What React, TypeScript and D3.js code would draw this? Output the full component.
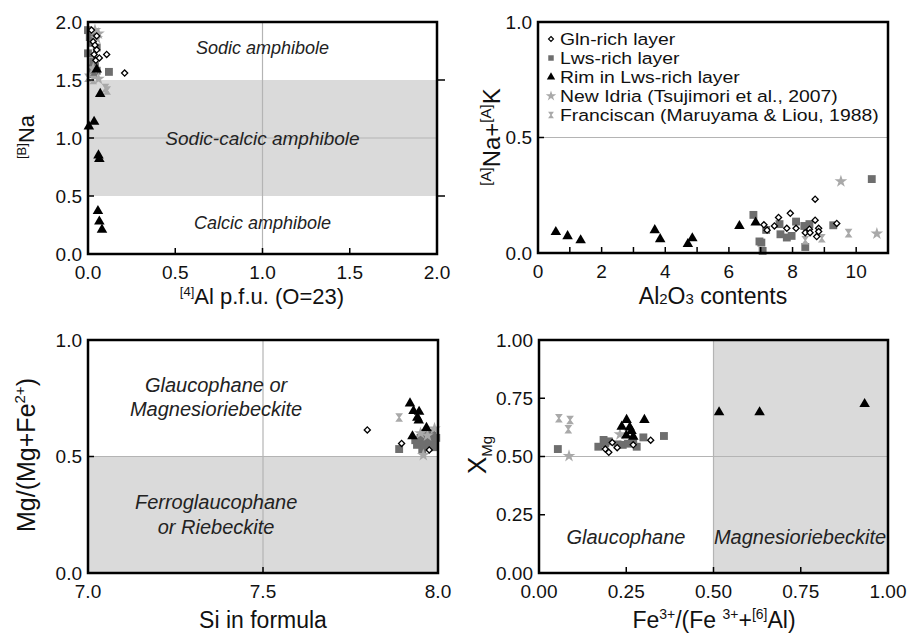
import React from 'react';
import * as d3 from 'd3';

// [x, y] pairs, one array per series per panel

// top-left: [4]Al vs [B]Na
const glnA = [[0.02, 1.93], [0.03, 1.83], [0.05, 1.88], [0.04, 1.80], [0.05, 1.76], [0.035, 1.72], [0.045, 1.67], [0.065, 1.69], [0.107, 1.72], [0.21, 1.56]];
const lwsA = [[0.0, 1.93], [0.01, 1.87], [0.03, 1.90], [0.02, 1.82], [0.05, 1.78], [0.0, 1.73], [0.03, 1.66], [0.02, 1.60], [0.04, 1.62], [0.05, 1.58], [0.03, 1.55], [0.12, 1.57]];
const rimA = [[0.05, 1.59], [0.07, 1.38], [0.035, 1.14], [0.005, 1.10], [0.06, 0.85], [0.065, 0.82], [0.057, 0.37], [0.065, 0.28], [0.08, 0.21]];
const idriaA = [[0.04, 1.93], [0.06, 1.90], [0.05, 1.86], [0.03, 1.60], [0.06, 1.51]];
const franA = [[0.0, 1.52], [0.03, 1.50], [0.1, 1.43], [0.11, 1.41]];

// top-right: Al2O3 vs [A]Na+[A]K
const glnB = [[8.71, 0.233], [7.1, 0.122], [7.2, 0.099], [7.43, 0.117], [7.56, 0.154], [7.82, 0.107], [7.93, 0.172], [8.11, 0.107], [8.4, 0.088], [8.53, 0.103], [8.55, 0.088], [8.71, 0.142], [8.82, 0.107], [8.82, 0.093], [8.76, 0.071], [9.39, 0.128]];
const lwsB = [[6.77, 0.165], [7.17, 0.1], [6.96, 0.05], [7.02, 0.045], [7.06, 0.009], [7.59, 0.125], [7.62, 0.081], [7.82, 0.067], [7.97, 0.074], [8.11, 0.136], [8.37, 0.117], [8.53, 0.125], [8.4, 0.026], [8.45, 0.1], [9.28, 0.12], [10.49, 0.32]];
const rimB = [[0.56, 0.091], [0.93, 0.073], [1.34, 0.055], [3.67, 0.099], [3.84, 0.06], [4.71, 0.039], [4.85, 0.064], [6.33, 0.117], [6.84, 0.132]];
const idriaB = [[9.52, 0.31], [10.65, 0.084]];
const franB = [[9.76, 0.086], [8.92, 0.064], [8.4, 0.055]];

// bottom-left: Si vs Mg/(Mg+Fe2+)
const glnC = [[7.798, 0.614], [7.896, 0.556], [7.975, 0.528]];
const lwsC = [[7.889, 0.532], [7.935, 0.57], [7.94, 0.55], [7.955, 0.53], [7.95, 0.58], [7.96, 0.55], [7.97, 0.57], [7.98, 0.6], [7.99, 0.56], [7.975, 0.54], [7.985, 0.59], [7.995, 0.58], [7.96, 0.6], [7.99, 0.54]];
const rimC = [[7.92, 0.728], [7.93, 0.695], [7.946, 0.692], [7.941, 0.667], [7.945, 0.655], [7.967, 0.623], [7.927, 0.587]];
const idriaC = [[7.958, 0.506], [7.95, 0.6], [7.99, 0.62], [7.97, 0.59]];
const franC = [[7.889, 0.667]];

// bottom-right: Fe3+/(Fe3+ + [6]Al) vs XMg
const glnD = [[0.19, 0.532], [0.2, 0.518], [0.224, 0.538], [0.32, 0.57], [0.21, 0.56], [0.27, 0.55]];
const lwsD = [[0.054, 0.532], [0.17, 0.542], [0.185, 0.571], [0.19, 0.556], [0.2, 0.565], [0.225, 0.552], [0.24, 0.55], [0.255, 0.555], [0.28, 0.542], [0.299, 0.582], [0.358, 0.588], [0.27, 0.56]];
const rimD = [[0.516, 0.69], [0.632, 0.69], [0.933, 0.725], [0.302, 0.657], [0.251, 0.657], [0.237, 0.628], [0.26, 0.625], [0.27, 0.585], [0.25, 0.59], [0.265, 0.61]];
const idriaD = [[0.086, 0.502], [0.232, 0.595]];
const franD = [[0.057, 0.664], [0.089, 0.657], [0.084, 0.617]];

const legendLabels = ['Gln-rich layer', 'Lws-rich layer', 'Rim in Lws-rich layer', 'New Idria (Tsujimori et al., 2007)', 'Franciscan (Maruyama & Liou, 1988)'];

const FONT = "'Liberation Sans', Arial, Helvetica, sans-serif";

// hourglass marker for the Franciscan data
const hourglass = {
  draw(ctx, size) {
    const w = Math.sqrt(size) * 0.5;
    const h = w * 1.1;
    ctx.moveTo(-w, -h);
    ctx.lineTo(w, -h);
    ctx.lineTo(w * 0.2, 0);
    ctx.lineTo(w, h);
    ctx.lineTo(-w, h);
    ctx.lineTo(-w * 0.2, 0);
    ctx.closePath();
  },
};

const styles = {
  lws: { type: d3.symbolSquare, size: 62, fill: '#6e6e6e', stroke: 'none' },
  idria: { type: d3.symbolStar, size: 50, fill: '#a9a9a9', stroke: 'none' },
  fran: { type: hourglass, size: 60, fill: '#a9a9a9', stroke: 'none' },
  rim: { type: d3.symbolTriangle, size: 48, fill: '#000', stroke: 'none' },
  gln: { type: d3.symbolDiamond2, size: 24, fill: '#fff', stroke: '#000' },
};
const legendOrder = ['gln', 'lws', 'rim', 'idria', 'fran'];
const legendSize = { gln: 16, lws: 30, rim: 30, idria: 34, fran: 34 };

const Panel = ({ box, xDomain, yDomain, xLabels, xTicks, yLabels, yTicks, fmt, shade, gridX, gridY, notes, sets, extra }) => {
  const x = d3.scaleLinear().domain(xDomain).range([box.l, box.r]);
  const y = d3.scaleLinear().domain(yDomain).range([box.b, box.t]);
  const f = d3.format(fmt.x);
  const fy = d3.format(fmt.y);
  const tl = 6;
  return (
    <g>
      {shade && (
        <rect x={x(shade.x[0])} y={y(shade.y[1])} width={x(shade.x[1]) - x(shade.x[0])}
          height={y(shade.y[0]) - y(shade.y[1])} fill="#dadada" />
      )}
      {gridX.map((v) => (
        <line key={'gx' + v} x1={x(v)} x2={x(v)} y1={box.t} y2={box.b} stroke="#b4b4b4" strokeWidth={1.2} />
      ))}
      {gridY.map((v) => (
        <line key={'gy' + v} x1={box.l} x2={box.r} y1={y(v)} y2={y(v)} stroke="#b4b4b4" strokeWidth={1.2} />
      ))}
      {notes.map((n, i) => (
        <text key={'n' + i} x={x(n.x)} y={y(n.y)} dy="0.35em" textAnchor="middle" fontStyle="italic"
          fontSize={n.size || 19} fill="#222">{n.text}</text>
      ))}
      {['lws', 'idria', 'fran', 'rim', 'gln'].map((k) => {
        const s = styles[k];
        const p = d3.symbol(s.type, s.size)();
        return (sets[k] || []).map((d, i) => (
          <path key={k + i} d={p} transform={`translate(${x(d[0])},${y(d[1])})`} fill={s.fill}
            stroke={s.stroke} strokeWidth={1.3} />
        ));
      })}
      <rect x={box.l} y={box.t} width={box.r - box.l} height={box.b - box.t} fill="none" stroke="#000" strokeWidth={2.5} />
      {xTicks.map((v) => (
        <line key={'xt' + v} x1={x(v)} x2={x(v)} y1={box.b} y2={box.b - tl} stroke="#000" strokeWidth={1.5} />
      ))}
      {yTicks.map((v) => (
        <line key={'yt' + v} x1={box.l} x2={box.l + tl} y1={y(v)} y2={y(v)} stroke="#000" strokeWidth={1.5} />
      ))}
      {xLabels.map((v) => (
        <text key={'xl' + v} x={x(v)} y={box.b + 25} textAnchor="middle" fontSize={19}>{f(v)}</text>
      ))}
      {yLabels.map((v) => (
        <text key={'yl' + v} x={box.l - 6} y={y(v)} dy="0.35em" textAnchor="end" fontSize={19}>{fy(v)}</text>
      ))}
      {extra && extra(x, y)}
    </g>
  );
};

const Legend = ({ left, top }) => {
  const rows = d3.scaleLinear().domain([0, 4]).range([top, top + 76]);
  return (
    <g>
      {legendOrder.map((k, i) => {
        const s = styles[k];
        return (
          <g key={k} transform={`translate(${left},${rows(i)})`}>
            <path d={d3.symbol(s.type, legendSize[k])()} transform="translate(-9,0)" fill={s.fill}
              stroke={s.stroke} strokeWidth={1.1} />
            <text transform="scale(1.14,1)" x={0} dy="0.35em" fontSize={17}>{legendLabels[i]}</text>
          </g>
        );
      })}
    </g>
  );
};

export default function App() {
  const sup = 13;
  return (
    <svg width={908} height={634} style={{ position: 'absolute', left: 0, top: 0, background: '#fff' }}
      fontFamily={FONT} fill="#111">
      <Panel
        box={{ l: 88, r: 437, t: 22, b: 254 }}
        xDomain={[0, 2]} yDomain={[0, 2]}
        xLabels={[0, 0.5, 1, 1.5, 2]} xTicks={[0.5, 1, 1.5]}
        yLabels={[0, 0.5, 1, 1.5, 2]} yTicks={[0.5, 1, 1.5]}
        fmt={{ x: '.1f', y: '.1f' }}
        shade={{ x: [0, 2], y: [0.5, 1.5] }}
        gridX={[1]} gridY={[1]}
        notes={[
          { text: 'Sodic amphibole', x: 1, y: 1.78, size: 18 },
          { text: 'Sodic-calcic amphibole', x: 1, y: 1.0, size: 19 },
          { text: 'Calcic amphibole', x: 1, y: 0.27, size: 18 },
        ]}
        sets={{ gln: glnA, lws: lwsA, rim: rimA, idria: idriaA, fran: franA }}
        extra={(x, y) => [0.5, 1.5].map((v) => (
          <line key={'rt' + v} x1={437} x2={445} y1={y(v)} y2={y(v)} stroke="#000" strokeWidth={1.5} />
        ))}
      />
      <Panel
        box={{ l: 538, r: 888, t: 22, b: 253 }}
        xDomain={[0, 11]} yDomain={[0, 1]}
        xLabels={[0, 2, 4, 6, 8, 10]} xTicks={[1, 2, 3, 4, 5, 6, 7, 8, 9, 10]}
        yLabels={[0, 0.5, 1]} yTicks={[0.5]}
        fmt={{ x: 'd', y: '.1f' }}
        gridX={[]} gridY={[0.5]}
        notes={[]}
        sets={{ gln: glnB, lws: lwsB, rim: rimB, idria: idriaB, fran: franB }}
      />
      <Legend left={560} top={39} />
      <Panel
        box={{ l: 88, r: 438, t: 340, b: 573 }}
        xDomain={[7, 8]} yDomain={[0, 1]}
        xLabels={[7, 7.5, 8]} xTicks={[7.5]}
        yLabels={[0, 0.5, 1]} yTicks={[0.5]}
        fmt={{ x: '.1f', y: '.1f' }}
        shade={{ x: [7, 8], y: [0, 0.5] }}
        gridX={[7.5]} gridY={[0.5]}
        notes={[
          { text: 'Glaucophane or', x: 7.366, y: 0.807, size: 20 },
          { text: 'Magnesioriebeckite', x: 7.366, y: 0.704, size: 20 },
          { text: 'Ferroglaucophane', x: 7.366, y: 0.305, size: 20 },
          { text: 'or Riebeckite', x: 7.366, y: 0.197, size: 20 },
        ]}
        sets={{ gln: glnC, lws: lwsC, rim: rimC, idria: idriaC, fran: franC }}
      />
      <Panel
        box={{ l: 539, r: 888, t: 340, b: 573 }}
        xDomain={[0, 1]} yDomain={[0, 1]}
        xLabels={[0, 0.25, 0.5, 0.75, 1]} xTicks={[0.25, 0.5, 0.75]}
        yLabels={[0, 0.25, 0.5, 0.75, 1]} yTicks={[0.25, 0.5, 0.75]}
        fmt={{ x: '.2f', y: '.2f' }}
        shade={{ x: [0.5, 1], y: [0, 1] }}
        gridX={[0.5]} gridY={[0.5]}
        notes={[
          { text: 'Glaucophane', x: 0.249, y: 0.155, size: 20 },
          { text: 'Magnesioriebeckite', x: 0.748, y: 0.155, size: 20 },
        ]}
        sets={{ gln: glnD, lws: lwsD, rim: rimD, idria: idriaD, fran: franD }}
      />

      {/* axis titles */}
      <text x={262} y={304} textAnchor="middle" fontSize={22}>
        <tspan fontSize={sup} dy={-8}>[4]</tspan>
        <tspan dy={8}>Al p.f.u. (O=23)</tspan>
      </text>
      <text x={713} y={304} textAnchor="middle" fontSize={23}>
        Al<tspan fontSize={15}>2</tspan>O<tspan fontSize={15}>3</tspan> contents
      </text>
      <text x={263} y={628} textAnchor="middle" fontSize={23}>Si in formula</text>
      <text x={714} y={628} textAnchor="middle" fontSize={23}>
        Fe<tspan fontSize={14} dy={-9}>3+</tspan>
        <tspan dy={9}>/(Fe </tspan>
        <tspan fontSize={14} dy={-9}>3+</tspan>
        <tspan dy={9}>+</tspan>
        <tspan fontSize={14} dy={-9}>[6]</tspan>
        <tspan dy={9}>Al)</tspan>
      </text>

      <text transform="translate(34,137) rotate(-90)" textAnchor="middle" fontSize={22}>
        <tspan fontSize={sup} dy={-8}>[B]</tspan>
        <tspan dy={8}>Na</tspan>
      </text>
      <text transform="translate(500,137) rotate(-90)" textAnchor="middle" fontSize={24}>
        <tspan fontSize={15} dy={-9}>[A]</tspan>
        <tspan dy={9}>Na+</tspan>
        <tspan fontSize={15} dy={-9}>[A]</tspan>
        <tspan dy={9}>K</tspan>
      </text>
      <text transform="translate(35,455) rotate(-90)" textAnchor="middle" fontSize={25}>
        Mg/(Mg+Fe<tspan fontSize={15} dy={-10}>2+</tspan>
        <tspan dy={10}>)</tspan>
      </text>
      <text transform="translate(486,455) rotate(-90)" textAnchor="middle" fontSize={26}>
        X<tspan fontSize={15} dy={6}>Mg</tspan>
      </text>
    </svg>
  );
}
